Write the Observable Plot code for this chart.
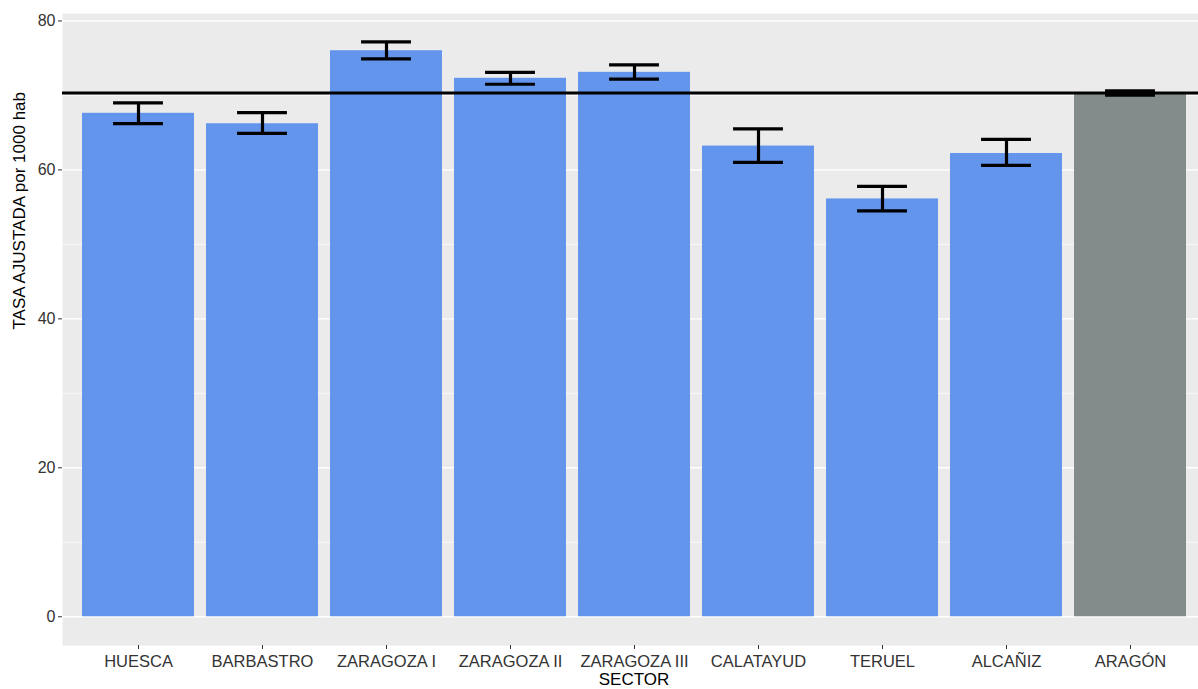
<!DOCTYPE html>
<html><head><meta charset="utf-8">
<script src="https://cdn.jsdelivr.net/npm/d3@7"></script>
<script src="https://cdn.jsdelivr.net/npm/@observablehq/plot@0.6"></script>
<style>
html,body{margin:0;background:#fff;overflow:hidden;width:1198px;}
#chart{width:1198px;height:689px;overflow:hidden;}
#chart svg{display:block;font-family:"Liberation Sans",Arial,sans-serif;max-width:none;}
</style>
</head><body><div id="chart"></div>
<script>
const sectors = ["HUESCA", "BARBASTRO", "ZARAGOZA I", "ZARAGOZA II", "ZARAGOZA III", "CALATAYUD", "TERUEL", "ALCAÑIZ", "ARAGÓN"];
const rates = [67.6, 66.2, 76.0, 72.3, 73.1, 63.2, 56.1, 62.2, 70.3];
const lower = [66.2, 64.9, 74.9, 71.5, 72.2, 61.0, 54.5, 60.6, 70.03];
const upper = [69.0, 67.7, 77.2, 73.1, 74.1, 65.5, 57.8, 64.1, 70.63];
const groups = ["sector", "sector", "sector", "sector", "sector", "sector", "sector", "sector", "total"];
const reference = [70.34];
const majorTicks = [0, 20, 40, 60, 80];
const minorTicks = [10, 30, 50, 70];
const xTitle = "SECTOR";
const yTitle = "TASA AJUSTADA por 1000 hab";

const data = sectors.map((s, i) => ({sector: s, rate: rates[i], lo: lower[i], hi: upper[i], group: groups[i]}));

const W = 1205, H = 689;
const mL = 62, mR = 0, mT = 13, mB = 44;
const step = (W - mL - mR) / (sectors.length - 0.1 + 0.3);
const whisker = 0.4 * step;
const inset = (0.9 * step - whisker) / 2;

const chart = Plot.plot({
  width: W, height: H,
  marginLeft: mL, marginRight: mR, marginTop: mT, marginBottom: mB,
  style: {fontFamily: '"Liberation Sans", Arial, sans-serif', background: "#fff", color: "#000", maxWidth: "none"},
  x: {domain: sectors, paddingInner: 0.1, paddingOuter: 0.15, label: null},
  y: {domain: [-3.86, 81.0], label: null},
  color: {domain: ["sector", "total"], range: ["#6495ED", "#838B8B"]},
  marks: [
    Plot.frame({fill: "#EBEBEB", stroke: "none"}),
    Plot.gridY(minorTicks, {stroke: "#fff", strokeOpacity: 1, strokeWidth: 0.7}),
    Plot.gridY(majorTicks, {stroke: "#fff", strokeOpacity: 1, strokeWidth: 1.4}),
    Plot.barY(data, {x: "sector", y: "rate", fill: "group"}),
    Plot.ruleY(reference, {stroke: "#000", strokeWidth: 3}),
    Plot.ruleX(data, {x: "sector", y1: "lo", y2: "hi", stroke: "#000", strokeWidth: 3.2}),
    Plot.tickY(data, {x: "sector", y: "lo", stroke: "#000", strokeWidth: 3.2, insetLeft: inset, insetRight: inset}),
    Plot.tickY(data, {x: "sector", y: "hi", stroke: "#000", strokeWidth: 3.2, insetLeft: inset, insetRight: inset}),
    Plot.axisX({tickSize: 4, tickPadding: 6, fontSize: 16.5, stroke: "#333", fill: "#333", label: null}),
    Plot.axisY({ticks: majorTicks, tickSize: 4, tickPadding: 3, fontSize: 16, stroke: "#333", fill: "#333", label: null}),
    Plot.text([xTitle], {frameAnchor: "bottom", dy: 39, fontSize: 17, fill: "#000"}),
    Plot.text([yTitle], {frameAnchor: "left", dx: -43, rotate: -90, fontSize: 17, fill: "#000"})
  ]
});
document.getElementById("chart").appendChild(chart);
</script>
</body></html>
